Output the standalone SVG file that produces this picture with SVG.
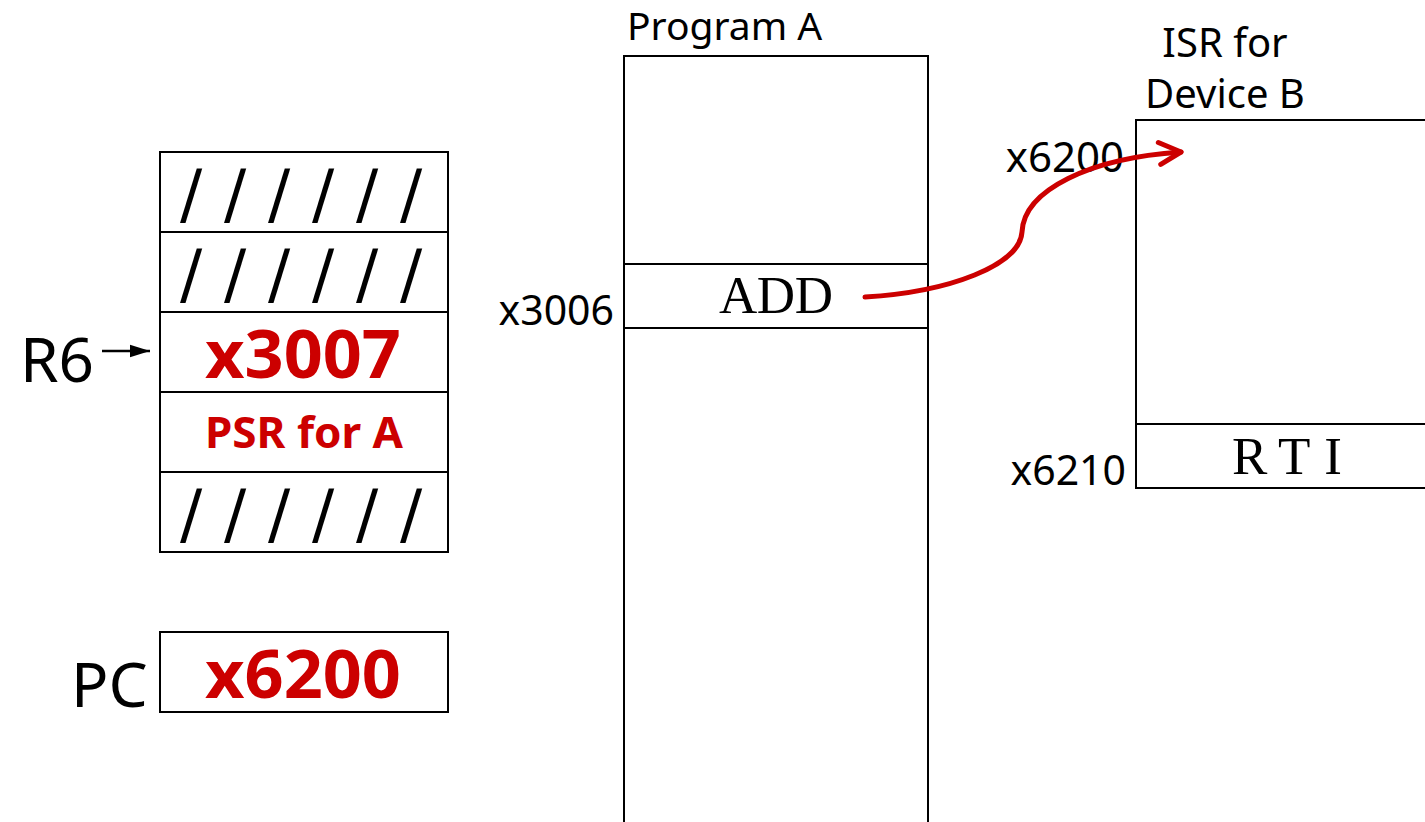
<svg xmlns="http://www.w3.org/2000/svg" width="1425" height="822" viewBox="0 0 1425 822">
<style>
.box{fill:#fff;stroke:#000;stroke-width:2}
.ln{stroke:#000;stroke-width:2}
.lbl{font-family:"Noto Sans","DejaVu Sans",sans-serif;fill:#000}
.red{font-family:"Noto Sans","DejaVu Sans",sans-serif;font-weight:bold;fill:#CC0000;text-anchor:middle}
.mono{font-family:"Liberation Serif",serif;fill:#000}
.hatch{font-family:"DejaVu Sans",sans-serif;font-size:66px;fill:#000}
</style>
<defs>
<marker id="chev" markerUnits="userSpaceOnUse" markerWidth="40" markerHeight="40" refX="0" refY="0" viewBox="-30 -20 40 40" orient="auto" overflow="visible">
<path d="M-22,-11 L0,0 L-21,11" fill="none" stroke="#CC0000" stroke-width="5" stroke-linecap="round" stroke-linejoin="round"/>
</marker>
<marker id="blk" markerUnits="userSpaceOnUse" markerWidth="20" markerHeight="20" refX="16" refY="5" viewBox="0 0 16 10" orient="auto">
<path d="M0,0 L16,5 L0,10 Z" fill="#000"/>
</marker>
</defs>

<g id="stack">
<rect class="box" x="160" y="152" width="288" height="400"/>
<line class="ln" x1="160" y1="232" x2="448" y2="232"/>
<line class="ln" x1="160" y1="312" x2="448" y2="312"/>
<line class="ln" x1="160" y1="392" x2="448" y2="392"/>
<line class="ln" x1="160" y1="472" x2="448" y2="472"/>
<text class="hatch" x="180 224 268 312 356 400" y="217">//////</text>
<text class="hatch" x="180 224 268 312 356 400" y="297">//////</text>
<text class="hatch" x="180 224 268 312 356 400" y="537">//////</text>
<text class="red" x="303" y="378" font-size="67" textLength="196" lengthAdjust="spacingAndGlyphs">x3007</text>
<text class="red" x="304" y="448" font-size="43" textLength="198" lengthAdjust="spacingAndGlyphs">PSR for A</text>
</g>

<g id="r6">
<text class="lbl" x="20" y="382" font-size="62">R6</text>
<line x1="102" y1="351" x2="150" y2="351" stroke="#000" stroke-width="2.5" marker-end="url(#blk)"/>
</g>

<g id="pc">
<rect class="box" x="160" y="632" width="288" height="80"/>
<text class="red" x="303" y="698" font-size="67" textLength="196" lengthAdjust="spacingAndGlyphs">x6200</text>
<text class="lbl" x="71" y="707" font-size="62">PC</text>
</g>

<g id="programA">
<text class="lbl" x="627" y="40" font-size="39">Program A</text>
<path d="M624,830 L624,56 L928,56 L928,830" fill="#fff" stroke="#000" stroke-width="2"/>
<line class="ln" x1="624" y1="264" x2="928" y2="264"/>
<line class="ln" x1="624" y1="328" x2="928" y2="328"/>
<text class="mono" x="719" y="313" font-size="53" textLength="114" lengthAdjust="spacing">ADD</text>
<text class="lbl" x="614" y="325" font-size="41" text-anchor="end">x3006</text>
</g>

<g id="isr">
<text class="lbl" x="1225" y="57" font-size="40" text-anchor="middle">ISR for</text>
<text class="lbl" x="1225" y="108" font-size="40" text-anchor="middle">Device B</text>
<path d="M1430,120 L1136,120 L1136,488 L1430,488" fill="#fff" stroke="#000" stroke-width="2"/>
<line class="ln" x1="1136" y1="424" x2="1430" y2="424"/>
<text class="mono" x="1232" y="474" font-size="53" textLength="110" lengthAdjust="spacing">RTI</text>
<text class="lbl" x="1126" y="485" font-size="41" text-anchor="end">x6210</text>
</g>

<g id="x6200label">
<text class="lbl" x="1124" y="172" font-size="42" text-anchor="end">x6200</text>
</g>

<g id="connectors">
<path d="M865,297 C950,292 1020,265 1022,232 C1024,190 1090,158 1181,152" fill="none" stroke="#CC0000" stroke-width="5" stroke-linecap="round" marker-end="url(#chev)"/>
</g>
</svg>
